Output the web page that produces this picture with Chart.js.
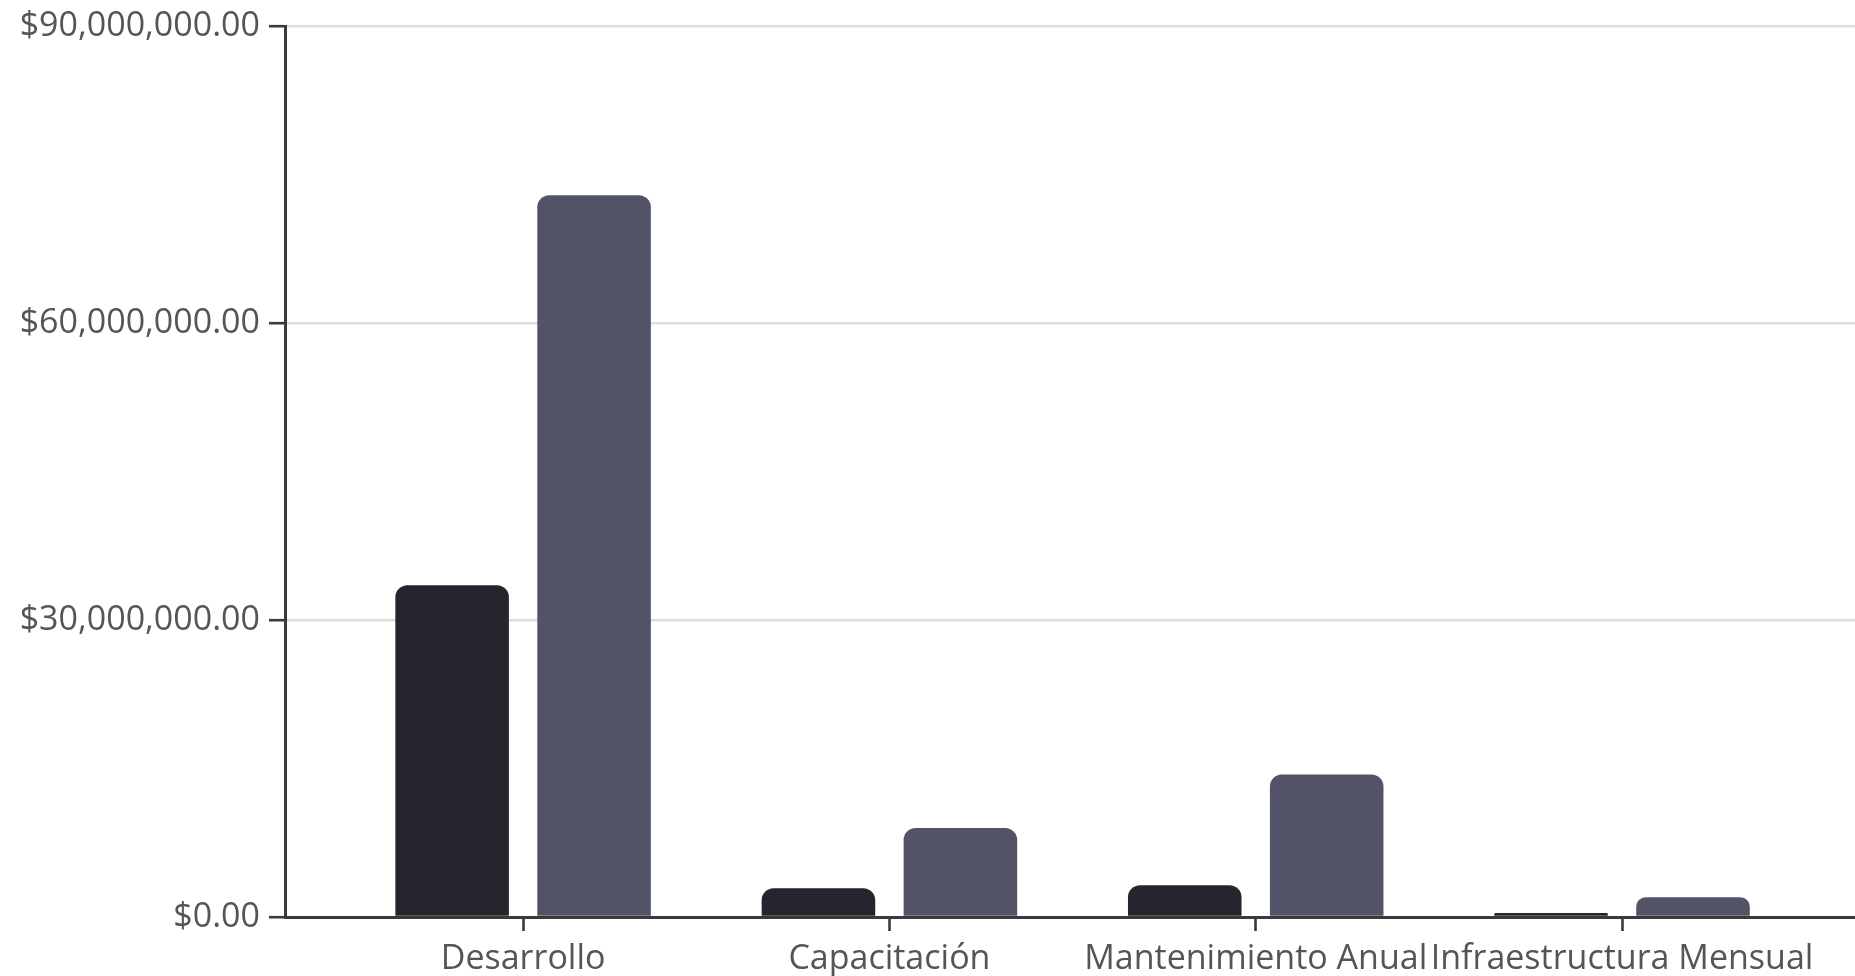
<!DOCTYPE html>
<html>
<head>
<meta charset="utf-8">
<script src="https://cdn.jsdelivr.net/npm/chart.js@4.4.1/dist/chart.umd.min.js"></script>
<style>
  html, body { margin: 0; padding: 0; background: #ffffff; overflow: hidden; }
  #wrap { width: 1855px; height: 976px; }
</style>
</head>
<body>
<div id="wrap"><canvas id="c" width="1855" height="976"></canvas></div>
<script>
const categories = ['Desarrollo', 'Capacitación', 'Mantenimiento Anual', 'Infraestructura Mensual'];
const seriesNames = ['Serie A', 'Serie B'];
const seriesA = [33500000, 2900000, 3200000, 400000];
const seriesB = [72900000, 9000000, 14400000, 2000000];
const yTickValues = [0, 30000000, 60000000, 90000000];

const FONT = "'Open Sans', 'Noto Sans', sans-serif";
const fmt = v => '$' + Number(v).toLocaleString('en-US', { minimumFractionDigits: 2, maximumFractionDigits: 2 });

const toPoints = arr => arr.map((v, i) => ({ x: i, y: v }));

new Chart(document.getElementById('c'), {
  type: 'bar',
  data: {
    datasets: [
      {
        label: seriesNames[0],
        data: toPoints(seriesA),
        backgroundColor: '#25252d',
        borderRadius: { topLeft: 12, topRight: 12, bottomLeft: 0, bottomRight: 0 },
        borderSkipped: 'start',
        categoryPercentage: 0.775,
        barPercentage: 0.8
      },
      {
        label: seriesNames[1],
        data: toPoints(seriesB),
        backgroundColor: '#535367',
        borderRadius: { topLeft: 12, topRight: 12, bottomLeft: 0, bottomRight: 0 },
        borderSkipped: 'start',
        categoryPercentage: 0.775,
        barPercentage: 0.8
      }
    ]
  },
  options: {
    responsive: false,
    devicePixelRatio: 1,
    animation: false,
    layout: { padding: { top: 23, left: 0, right: 0, bottom: 0 } },
    plugins: {
      legend: { display: false },
      tooltip: { enabled: false }
    },
    scales: {
      x: {
        type: 'linear',
        min: -0.65,
        max: 3.636,
        offset: false,
        afterBuildTicks: s => { s.ticks = categories.map((_, i) => ({ value: i })); },
        afterFit: s => { s.height = 59; },
        ticks: {
          autoSkip: false,
          maxRotation: 0,
          minRotation: 0,
          padding: 11,
          color: '#555555',
          font: { family: FONT, size: 34, lineHeight: 1.0 },
          callback: v => categories[v] !== undefined ? categories[v] : ''
        },
        grid: {
          offset: false,
          drawOnChartArea: false,
          drawTicks: true,
          tickLength: 14,
          tickColor: '#3a3a3a',
          tickWidth: 2.6
        },
        border: { display: true, color: '#3a3a3a', width: 3 }
      },
      y: {
        min: 0,
        max: 90000000,
        afterBuildTicks: s => { s.ticks = yTickValues.map(v => ({ value: v })); },
        afterFit: s => { s.width = 285; },
        ticks: {
          padding: 9,
          color: '#555555',
          font: { family: FONT, size: 34, lineHeight: 1.0 },
          callback: v => fmt(v)
        },
        grid: {
          color: '#dddddd',
          lineWidth: 2.4,
          drawTicks: true,
          tickLength: 16,
          tickColor: '#3a3a3a',
          tickWidth: 2.6
        },
        border: { display: true, color: '#3a3a3a', width: 3 }
      }
    }
  }
});
</script>
</body>
</html>
